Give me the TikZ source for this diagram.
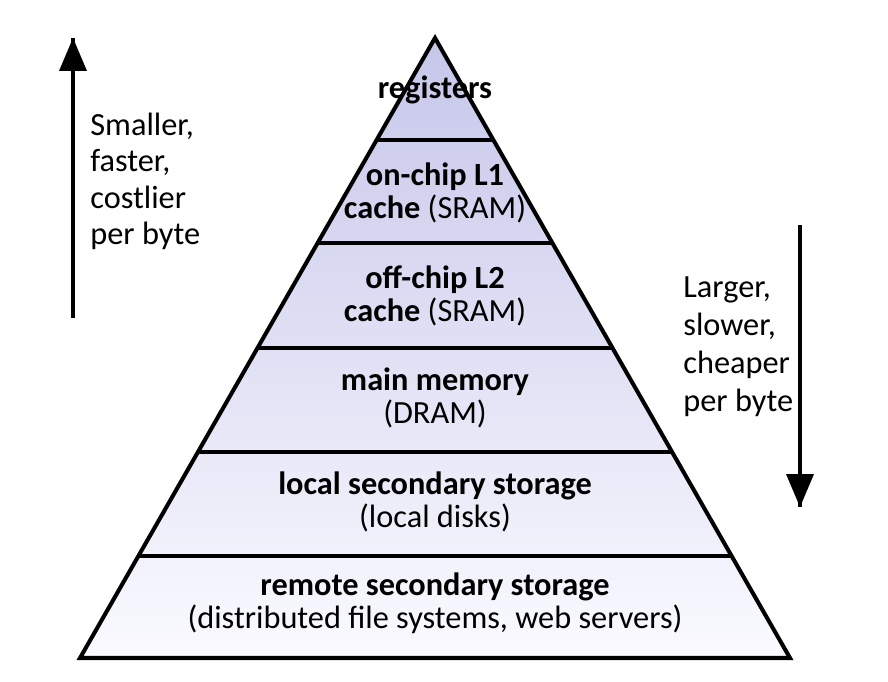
\documentclass[tikz,border=0pt]{standalone}
\usepackage{fontspec}
\setmainfont{Carlito}
\usepackage{tikz}
\usetikzlibrary{calc}
\usetikzlibrary{arrows,decorations.markings}
\definecolor{levtop}{RGB}{198,198,234}
\definecolor{levbot}{RGB}{250,250,255}
\tikzset{
    level line/.style={line width=2.3pt, black},
    level text/.style={align=center, font=\fontsize{18.4}{18.8}\selectfont, inner sep=0pt},
    side text/.style={align=left, anchor=north west, font=\fontsize{18.4}{20.6}\selectfont, inner sep=0pt},
    big arrow/.style={line width=2.4pt, black,
        decoration={markings,mark=at position 1 with {\arrow[scale=1.3]{triangle 45}}},
        postaction={decorate}}
}

\begin{document}
\begin{tikzpicture}[x=0.02cm,y=-0.02cm]
			\useasboundingbox (0,0) rectangle (888,682);
			\node (apex) at (435,38) {};
			\coordinate (BL) at (80,658);
			\coordinate (BR) at (790,658);

			% pyramid body
			\shade[top color=levtop, bottom color=levbot] (apex.center) -- (BR) -- (BL) -- cycle;

			% level separators
			\foreach \yy in {140,243,348,452,556}{
				\draw[level line] ($(apex.center)!{(\yy-38)/620}!(BL)$) -- ($(apex.center)!{(\yy-38)/620}!(BR)$);
			}
			\draw[level line, line join=miter] (apex.center) -- (BR) -- (BL) -- cycle;

			% level labels
			\node[level text] (reg) at (435,90) {\textbf{registers}};
			\node[level text] (L1) at (435,193) {\textbf{on-chip L1}\\\textbf{cache} (SRAM)};
			\node[level text] (L2) at (435,296) {\textbf{off-chip L2}\\\textbf{cache} (SRAM)};
			\node[level text] (mem) at (435,398) {\textbf{main memory}\\(DRAM)};
			\node[level text] (loc) at (435,502) {\textbf{local secondary storage}\\(local disks)};
			\node[level text] (rem) at (435,603) {\textbf{remote secondary storage}\\(distributed file systems, web servers)};

			% side arrows
			\coordinate (up0) at (73,318);
			\coordinate (up1) at (73,38);
			\coordinate (dn0) at (800,225);
			\coordinate (dn1) at (800,507);
			\draw[big arrow] (up0) -- (up1);
			\draw[big arrow] (dn0) -- (dn1);

			\node[side text] (small) at (90,113) {Smaller,\\faster,\\costlier\\per byte};
			\node[side text, font=\fontsize{18.4}{21.7}\selectfont] (large) at (683,276) {Larger,\\slower,\\cheaper\\per byte};
		\end{tikzpicture}
\end{document}
